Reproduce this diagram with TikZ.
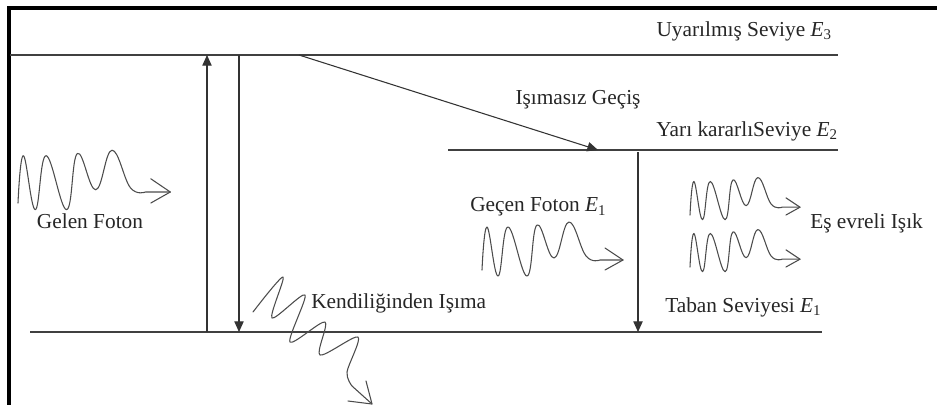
\documentclass[tikz,border=0pt]{standalone}
\usepackage{fontspec}
\setmainfont{Liberation Serif}
\usetikzlibrary{arrows.meta}
\begin{document}
\begin{tikzpicture}[x=0.75pt,y=-0.75pt,
  lvl/.style={draw=black!75, line width=0.8pt},
  trans/.style={draw=black!80, line width=0.8pt, -{Triangle[width=7pt,length=8pt]}},
  lbl/.style={font=\fontsize{16}{19}\selectfont, text=black!85, inner sep=0pt},
  wavy/.style={draw=black!70, line width=0.8pt, line cap=round, line join=round},
  frame/.style={draw=black, line width=2.4pt},
  wave/.pic={
    \draw[wavy] plot[smooth, tension=0.7] coordinates {(0,0) (5,-43) (16,6) (26,-43) (45,6) (55,-45) (72,-12) (87,-48) (104,-14) (118,-10)} -- (141,-10);
    \draw[wavy] (123,-22) -- (141,-10) -- (123,0);
  }
]
\useasboundingbox (0,0) rectangle (937,405);
% frame
\coordinate (fTL) at (9,8);
\coordinate (fTR) at (937,8);
\coordinate (fBL) at (9,405);
\draw[frame] (fTR) -- (fTL) -- (fBL);

% levels
\coordinate (e3a) at (10,55);   \coordinate (e3b) at (838,55);
\coordinate (e2a) at (448,150); \coordinate (e2b) at (838,150);
\coordinate (e1a) at (30,332);  \coordinate (e1b) at (822,332);
\draw[lvl] (e3a) -- (e3b);
\draw[lvl] (e2a) -- (e2b);
\draw[lvl] (e1a) -- (e1b);

% transitions
\coordinate (upS) at (207,332); \coordinate (upE) at (207,55);
\coordinate (dnS) at (239,55);  \coordinate (dnE) at (239,332);
\coordinate (dgS) at (299,55);  \coordinate (dgE) at (598,150);
\coordinate (d2S) at (638,152); \coordinate (d2E) at (638,332);
\draw[trans] (upS) -- (upE);
\draw[trans] (dnS) -- (dnE);
\draw[trans] (dgS) -- (dgE);
\draw[trans] (d2S) -- (d2E);

% labels
\node[lbl, anchor=east] (lE3) at (832,31) {Uyarılmış Seviye \textit{E}\textsubscript{3}};
\node[lbl] (lNR) at (578,100) {Işımasız Geçiş};
\node[lbl, anchor=east] (lE2) at (838,131) {Yarı kararlıSeviye \textit{E}\textsubscript{2}};
\node[lbl] (lGF) at (90,221) {Gelen Foton};
\node[lbl, anchor=west] (lKI) at (311,303) {Kendiliğinden Işıma};
\node[lbl, anchor=west] (lGec) at (470,207) {Geçen Foton \textit{E}\textsubscript{1}};
\node[lbl, anchor=west] (lEs) at (810,223) {Eş evreli Işık};
\node[lbl, anchor=west] (lE1) at (665,307) {Taban Seviyesi \textit{E}\textsubscript{1}};

% photons
\pic[xscale=1.08, yscale=1.1] at (18,203) {wave};
\pic at (482,270) {wave};
\pic[scale=0.78] at (690,215) {wave};
\pic[scale=0.78] at (690,267) {wave};

% spontaneous emission
\draw[wavy] plot[smooth, tension=0.5] coordinates {(253,312) (283,277) (272,318) (305,295) (290,342) (325,322) (320,355) (358,337) (347,372) (352,386)} -- (372,404);
\draw[wavy] (366,381) -- (372,404) -- (348,401);
\end{tikzpicture}
\end{document}
